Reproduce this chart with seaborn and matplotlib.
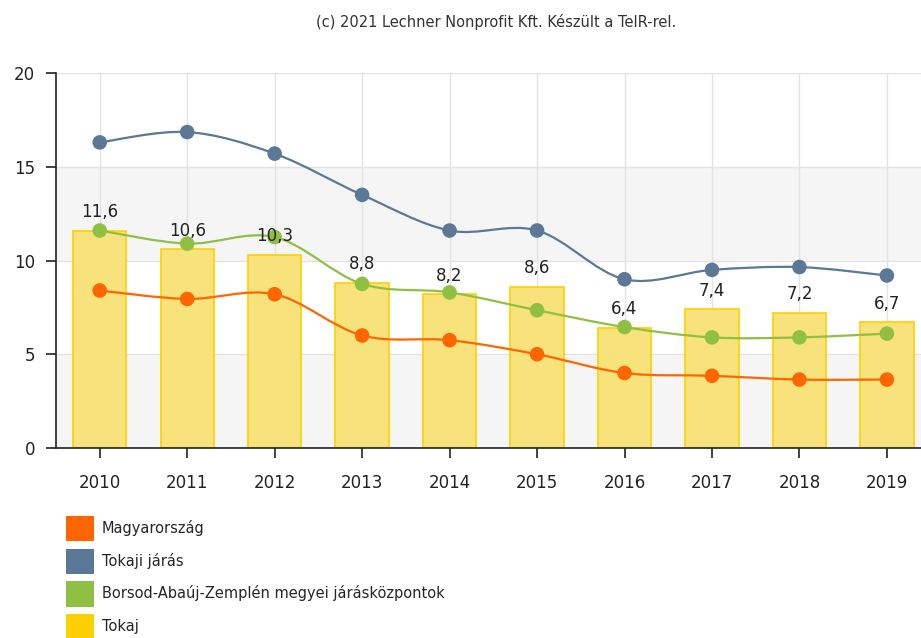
import matplotlib
matplotlib.use("Agg")
import matplotlib.pyplot as plt
import seaborn as sns
import numpy as np
import pandas as pd
from matplotlib.path import Path
from matplotlib.patches import PathPatch, Patch

years = ["2010", "2011", "2012", "2013", "2014", "2015", "2016", "2017", "2018", "2019"]
magyarorszag = [8.4, 7.95, 8.2, 6.0, 5.75, 5.0, 4.0, 3.85, 3.65, 3.65]
tokaji_jaras = [16.3, 16.85, 15.7, 13.5, 11.6, 11.6, 9.0, 9.5, 9.65, 9.2]
baz_kozpontok = [11.6, 10.9, 11.25, 8.75, 8.3, 7.35, 6.45, 5.9, 5.9, 6.1]
tokaj = [11.6, 10.6, 10.3, 8.8, 8.2, 8.6, 6.4, 7.4, 7.2, 6.7]

nevek = ["Magyarország", "Tokaji járás", "Borsod-Abaúj-Zemplén megyei járásközpontok", "Tokaj"]
szinek = ["#ff6600", "#5b7896", "#8fc043", "#ffd000"]

df_bar = pd.DataFrame({"ev": years, "ertek": tokaj})


def spline_path(xs, ys):
    # sima görbe a pontokon át (bezier kontrollpontok)
    verts = [(xs[0], ys[0])]
    codes = [Path.MOVETO]
    n = len(xs)
    for i in range(n - 1):
        x0, y0 = xs[i], ys[i]
        x1, y1 = xs[i + 1], ys[i + 1]
        xp, yp = (xs[i - 1], ys[i - 1]) if i > 0 else (x0, y0)
        xn, yn = (xs[i + 2], ys[i + 2]) if i + 2 < n else (x1, y1)
        c1 = (x0 + (x1 - xp) / 6, y0 + (y1 - yp) / 6)
        c2 = (x1 - (xn - x0) / 6, y1 - (yn - y0) / 6)
        verts += [c1, c2, (x1, y1)]
        codes += [Path.CURVE4] * 3
    return Path(verts, codes)


sns.set_style("white")
plt.rcParams['font.family'] = ['DejaVu Sans']

fig = plt.figure(figsize=(9.21, 6.38), dpi=100)
ax = fig.add_axes([56 / 921, 190 / 638, 1 - 56 / 921, 375 / 638])

# sávos háttér
for lo, hi, c in [(0, 5, "#f5f5f5"), (5, 10, "#ffffff"), (10, 15, "#f5f5f5"), (15, 20, "#ffffff")]:
    ax.axhspan(lo, hi, color=c, zorder=0, lw=0)

sns.barplot(data=df_bar, x="ev", y="ertek", color="#f7e27c", edgecolor="#ffd000",
            linewidth=1.2, width=0.61, saturation=1, ax=ax, zorder=2)

xs = np.arange(len(years))
for vals, c in zip([magyarorszag, tokaji_jaras, baz_kozpontok], szinek[:3]):
    ax.add_patch(PathPatch(spline_path(xs, vals), facecolor="none", edgecolor=c, lw=1.6, zorder=3))
    sns.scatterplot(x=xs, y=vals, color=c, s=110, edgecolor="none", ax=ax, zorder=4)

for i, v in enumerate(tokaj):
    ax.annotate(f"{v:.1f}".replace(".", ","), (i, v), xytext=(0, 7), textcoords="offset points",
                ha="center", va="bottom", fontsize=12, color="#222222", zorder=5)

ax.set_xlim(-0.5, 9.39)
ax.set_ylim(0, 20)
ax.set_yticks([0, 5, 10, 15, 20])
ax.set_xticks(xs)
ax.set_xticklabels(years)
ax.set_xlabel("")
ax.set_ylabel("")
ax.grid(True, color="#e3e3e3", lw=1, zorder=1)
ax.set_axisbelow(True)
for s in ["top", "right"]:
    ax.spines[s].set_visible(False)
for s in ["left", "bottom"]:
    ax.spines[s].set_color("#222222")
    ax.spines[s].set_linewidth(1.2)
ax.tick_params(axis="both", bottom=True, left=True, direction="out", length=7, width=1.2,
               color="#222222", labelsize=12, labelcolor="#222222")
ax.tick_params(axis="x", pad=12)
ax.tick_params(axis="y", pad=8)

fig.text(496 / 921, 1 - 22 / 638, "(c) 2021 Lechner Nonprofit Kft. Készült a TeIR-rel.",
         ha="center", va="center", fontsize=10.5, color="#333333")

handles = [Patch(facecolor=c, edgecolor="none") for c in szinek]
fig.legend(handles, nevek, loc="upper left", bbox_to_anchor=(60 / 921, 1 - 510 / 638),
           frameon=False, fontsize=10.5, handlelength=1.9, handleheight=2.3,
           labelspacing=0.5, handletextpad=0.55, borderaxespad=0)

plt.savefig("out.png", dpi=100)
plt.close()
